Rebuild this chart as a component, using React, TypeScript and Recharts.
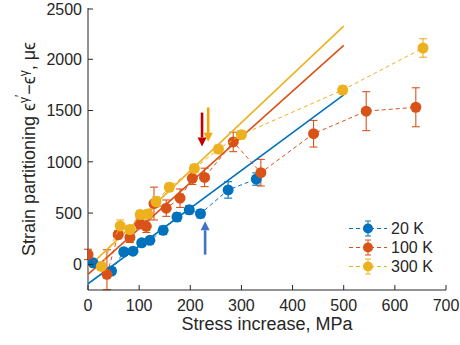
import React from "react";
import {
  ComposedChart,
  Scatter,
  XAxis,
  YAxis,
  ErrorBar,
  ReferenceLine,
  Legend,
} from "recharts";

const BLUE = "#0072BD";
const RED = "#D95319";
const YELLOW = "#EDB120";
const AX = "#262626";
const FONT = "'Liberation Sans', Arial, Helvetica, sans-serif";

// 20 K
const x20 = [10, 46, 70, 88, 105, 121, 147, 174, 198, 220, 274, 329];
const y20 = [15, -65, 123, 129, 210, 235, 332, 461, 532, 494, 726, 832];
const e20 = [30, 30, 30, 30, 30, 30, 40, 40, 40, 40, 80, 60];

// 100 K
const x100 = [0, 37, 59, 82, 101, 114, 129, 153, 180, 204, 228, 284, 338, 441, 544, 641];
const y100 = [97, -97, 290, 263, 397, 371, 593, 548, 645, 839, 848, 1194, 894, 1274, 1494, 1532];
const e100: (number | number[])[] = [50, [150, 240], 40, 50, 50, 60, 160, 80, 90, 60, 90, 95, 130, 130, 190, 190];

// 300 K
const x300 = [26, 63, 82, 102, 117, 133, 159, 208, 255, 300, 498, 655];
const y300 = [-20, 375, 340, 486, 490, 610, 752, 935, 1123, 1265, 1700, 2110];
const e300 = [40, 58, 40, 40, 40, 50, 40, 40, 40, 40, 40, 90];

// linear fits, evaluated at x = 0 and x = 500
const fitX = [0, 500];
const fit20 = [-190, 1652];
const fit100 = [-97, 2135];
const fit300 = [-30, 2323];

// arrows marking the onset
const arrowX = [223, 235, 229];
const arrowFrom = [1480, 1530, 95];
const arrowTo = [1150, 1195, 420];
const arrowColors = ["#C00000", "#F5A40A", "#4472C4"];

const xTicks = [0, 100, 200, 300, 400, 500, 600, 700];
const yTicks = [0, 500, 1000, 1500, 2000, 2500];
const names = ["20 K", "100 K", "300 K"];
const colors = [BLUE, RED, YELLOW];

const pts = (xs: number[], ys: number[], es: any[]) =>
  xs.map((x, i) => ({ x, y: ys[i], err: es[i] }));
const fit = (ys: number[]) => fitX.map((x, i) => ({ x, y: ys[i] }));

const dot = (color: string) => (p: any) =>
  <circle cx={p.cx} cy={p.cy} r={5.5} fill={color} />;
const none = () => <g />;

const BottomTick = ({ x, y, payload }: any) => (
  <g>
    <line x1={x} x2={x} y1={y - 10} y2={y - 15} stroke={AX} />
    <text x={x} y={y} dy="0.71em" textAnchor="middle" fontSize={16} fill={AX} fontFamily={FONT}>
      {payload.value}
    </text>
  </g>
);
const LeftTick = ({ x, y, payload }: any) => (
  <g>
    <line x1={x + 6} x2={x + 11} y1={y} y2={y} stroke={AX} />
    <text x={x} y={y} dy="0.36em" textAnchor="end" fontSize={16} fill={AX} fontFamily={FONT}>
      {payload.value}
    </text>
  </g>
);
const TopTick = ({ x, y }: any) => <line x1={x} x2={x} y1={y} y2={y + 5} stroke={AX} />;
const RightTick = ({ x, y }: any) => <line x1={x} x2={x - 5} y1={y} y2={y} stroke={AX} />;

const YLabel = ({ viewBox }: any) => {
  const cx = viewBox.x - 3;
  const cy = viewBox.y + viewBox.height / 2;
  return (
    <text
      x={cx}
      y={cy}
      transform={`rotate(-90 ${cx} ${cy})`}
      textAnchor="middle"
      fontSize={18}
      fill={AX}
      fontFamily={FONT}
    >
      Strain partitioning ϵ
      <tspan dy={-7} fontSize={12}>γ</tspan>
      <tspan dy={-4} fontSize={12}>′</tspan>
      <tspan dy={11}>−ϵ</tspan>
      <tspan dy={-7} fontSize={12}>γ</tspan>
      <tspan dy={7}>, μϵ</tspan>
    </text>
  );
};

const XLabel = ({ viewBox }: any) => (
  <text
    x={viewBox.x + viewBox.width / 2}
    y={viewBox.y + 40}
    textAnchor="middle"
    fontSize={18}
    fill={AX}
    fontFamily={FONT}
  >
    Stress increase, MPa
  </text>
);

const Arrow = (color: string) => (p: any) => {
  const { x1, y1, x2, y2 } = p;
  const dir = y2 > y1 ? 1 : -1;
  const head = 9;
  return (
    <g>
      <line x1={x1} y1={y1} x2={x2} y2={y2 - dir * head} stroke={color} strokeWidth={2.6} />
      <polygon
        points={`${x2 - 4.5},${y2 - dir * head} ${x2 + 4.5},${y2 - dir * head} ${x2},${y2}`}
        fill={color}
      />
    </g>
  );
};

const LegendBox = () => (
  <div style={{ fontFamily: FONT, fontSize: 16, color: AX }}>
    {names.map((n, i) => (
      <div key={n} style={{ display: "flex", alignItems: "center", height: 19 }}>
        <svg width={42} height={19}>
          <line x1={0} x2={38} y1={9.5} y2={9.5} stroke={colors[i]} strokeDasharray="4 3" />
          <line x1={19} x2={19} y1={2} y2={17} stroke={colors[i]} />
          <line x1={16} x2={22} y1={2} y2={2} stroke={colors[i]} />
          <line x1={16} x2={22} y1={17} y2={17} stroke={colors[i]} />
          <circle cx={19} cy={9.5} r={5} fill={colors[i]} />
        </svg>
        <span>{n}</span>
      </div>
    ))}
  </div>
);

export default function App() {
  const series = [
    pts(x20, y20, e20),
    pts(x100, y100, e100),
    pts(x300, y300, e300),
  ];
  const fits = [fit(fit20), fit(fit100), fit(fit300)];
  return (
    <div style={{ position: "absolute", left: 0, top: 0, background: "#fff" }}>
      <ComposedChart width={460} height={345} margin={{ top: 8, right: 14, bottom: 0, left: 38 }}>
        <XAxis
          dataKey="x"
          type="number"
          domain={[0, 700]}
          ticks={xTicks}
          allowDataOverflow
          height={55}
          tickSize={0}
          tickMargin={10}
          tickLine={false}
          axisLine={{ stroke: AX }}
          tick={<BottomTick />}
          label={<XLabel />}
        />
        <XAxis
          xAxisId="top"
          orientation="top"
          type="number"
          domain={[0, 700]}
          ticks={xTicks}
          allowDataOverflow
          height={0}
          tickSize={0}
          tickMargin={0}
          tickLine={false}
          axisLine={{ stroke: AX }}
          tick={<TopTick />}
        />
        <YAxis
          dataKey="y"
          type="number"
          domain={[-250, 2500]}
          ticks={yTicks}
          allowDataOverflow
          width={50}
          tickSize={0}
          tickMargin={6}
          tickLine={false}
          axisLine={{ stroke: AX }}
          tick={<LeftTick />}
          label={<YLabel />}
        />
        <YAxis
          yAxisId="right"
          orientation="right"
          type="number"
          domain={[-250, 2500]}
          ticks={yTicks}
          allowDataOverflow
          width={0}
          tickSize={0}
          tickMargin={0}
          tickLine={false}
          axisLine={{ stroke: AX }}
          tick={<RightTick />}
        />
        {fits.map((d, i) => (
          <Scatter
            key={"fit" + i}
            data={d}
            line={{ stroke: colors[i], strokeWidth: 1.6 }}
            shape={none}
            legendType="none"
            isAnimationActive={false}
          />
        ))}
        {series.map((d, i) => (
          <Scatter
            key={names[i]}
            name={names[i]}
            data={d}
            line={{ stroke: colors[i], strokeWidth: 1, strokeDasharray: "4 3" }}
            shape={dot(colors[i])}
            isAnimationActive={false}
          >
            <ErrorBar
              dataKey="err"
              direction="y"
              width={4}
              stroke={colors[i]}
              strokeWidth={1.1}
              isAnimationActive={false}
            />
          </Scatter>
        ))}
        {arrowX.map((x, i) => (
          <ReferenceLine
            key={"arrow" + i}
            segment={[
              { x, y: arrowFrom[i] },
              { x, y: arrowTo[i] },
            ]}
            shape={Arrow(arrowColors[i])}
          />
        ))}
        <Legend
          layout="vertical"
          align="center"
          verticalAlign="middle"
          content={<LegendBox />}
          wrapperStyle={{ position: "absolute", left: 349, top: 219, width: "auto", height: "auto" }}
        />
      </ComposedChart>
    </div>
  );
}
